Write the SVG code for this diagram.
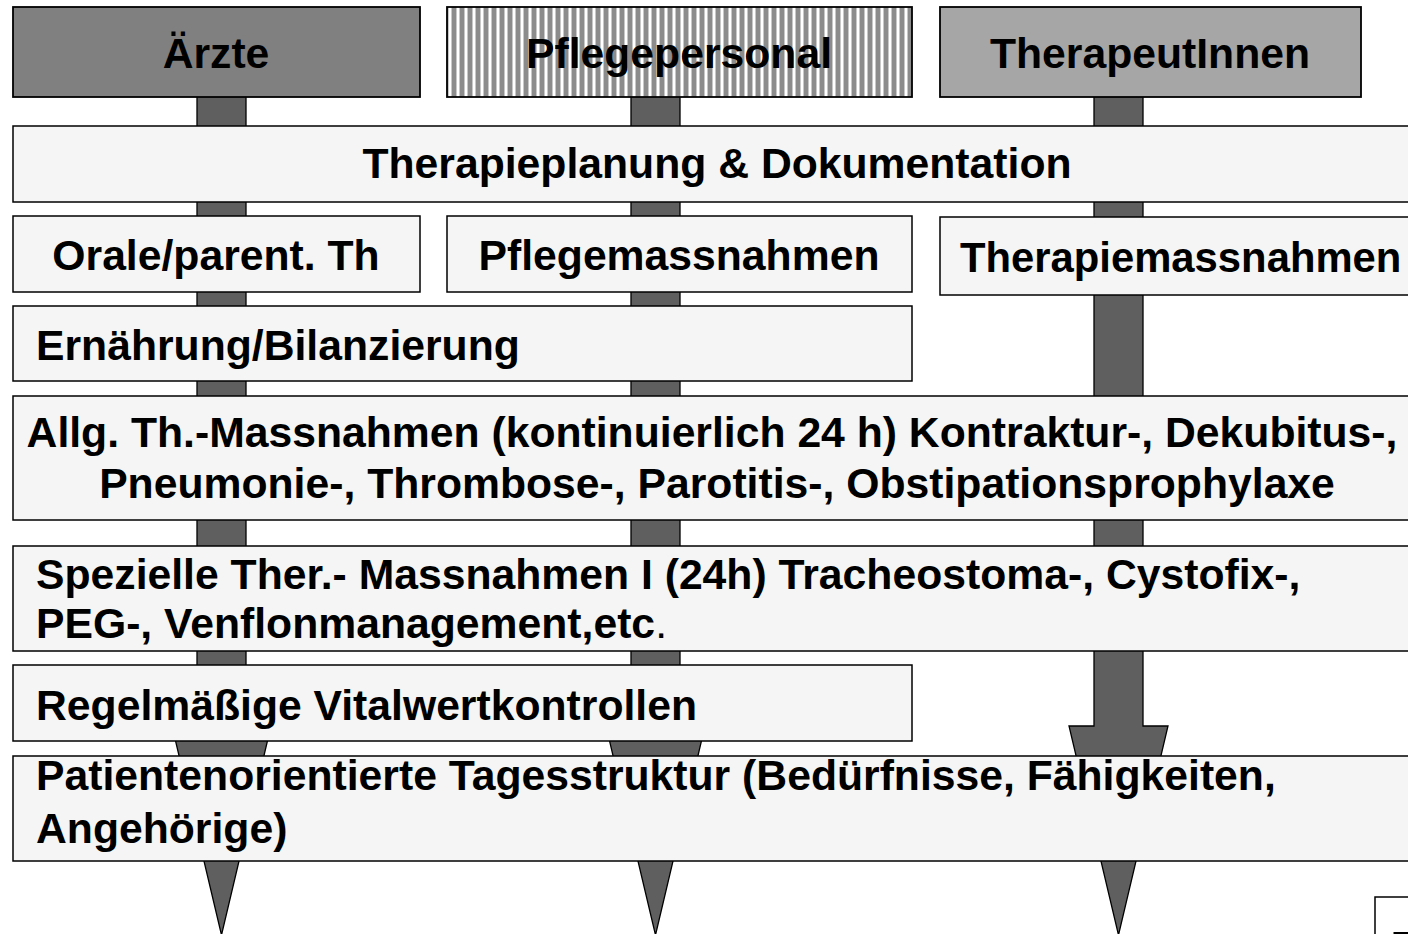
<svg xmlns="http://www.w3.org/2000/svg" width="1408" height="934" viewBox="0 0 1408 934">
<defs>
<pattern id="stripes" x="447" y="0" width="8" height="10" patternUnits="userSpaceOnUse">
<rect width="8" height="10" fill="#8c8c8c"/>
<rect x="1" width="1" height="10" fill="#c8c8c8"/>
<rect x="2" width="2" height="10" fill="#ffffff"/>
<rect x="4" width="1" height="10" fill="#c8c8c8"/>
</pattern>
</defs>
<style>
.box{fill:#f5f5f5;stroke:#000;stroke-width:1.5}
.head{stroke:#000;stroke-width:1.8}
.arrow{fill:#5f5f5f;stroke:#000;stroke-width:1.3}
text{font-family:"Liberation Sans",Arial,Helvetica,sans-serif;font-weight:bold;font-size:42.7px;fill:#000}
.c{text-anchor:middle}
</style>
<rect width="1408" height="934" fill="#ffffff"/>
<g id="connectors">
<polygon class="arrow" points="197,60 246,60 246,726 271,726 221.5,935 172,726 197,726"/>
<polygon class="arrow" points="631,60 680,60 680,726 705,726 655.5,935 606,726 631,726"/>
<polygon class="arrow" points="1094,60 1143,60 1143,726 1168,726 1118.5,935 1069,726 1094,726"/>
</g>
<g id="aerzte">
<rect class="head" x="13" y="7" width="407" height="90" fill="#808080"/>
<text class="c" x="216" y="68">Ärzte</text>
</g>
<g id="pflegepersonal">
<rect class="head" x="447" y="7" width="465" height="90" fill="url(#stripes)"/>
<text class="c" x="679" y="68">Pflegepersonal</text>
</g>
<g id="therapeutinnen">
<rect class="head" x="940" y="7" width="421" height="90" fill="#a6a6a6"/>
<text class="c" x="1150" y="68">TherapeutInnen</text>
</g>
<g id="therapieplanung">
<rect class="box" x="13" y="126" width="1410" height="76"/>
<text class="c" x="717" y="178">Therapieplanung &amp; Dokumentation</text>
</g>
<g id="orale">
<rect class="box" x="13" y="216" width="407" height="76"/>
<text class="c" x="216" y="270">Orale/parent. Th</text>
</g>
<g id="pflegemassnahmen">
<rect class="box" x="447" y="216" width="465" height="76"/>
<text class="c" x="679" y="270">Pflegemassnahmen</text>
</g>
<g id="therapiemassnahmen">
<rect class="box" x="940" y="217" width="480" height="78"/>
<text x="960" y="272" style="font-size:41.8px">Therapiemassnahmen</text>
</g>
<g id="ernaehrung">
<rect class="box" x="13" y="306" width="899" height="75"/>
<text x="36" y="360">Ernährung/Bilanzierung</text>
</g>
<g id="allgemein">
<rect class="box" x="13" y="396" width="1410" height="124"/>
<text class="c" x="712" y="447">Allg. Th.-Massnahmen (kontinuierlich 24 h) Kontraktur-, Dekubitus-,</text>
<text class="c" x="717" y="498">Pneumonie-, Thrombose-, Parotitis-, Obstipationsprophylaxe</text>
</g>
<g id="spezielle">
<rect class="box" x="13" y="546" width="1410" height="105"/>
<text x="36" y="589">Spezielle Ther.- Massnahmen I (24h) Tracheostoma-, Cystofix-,</text>
<text x="36" y="638">PEG-, Venflonmanagement,etc<tspan font-weight="normal">.</tspan></text>
</g>
<g id="vitalwerte">
<rect class="box" x="13" y="665" width="899" height="76"/>
<text x="36" y="720">Regelmäßige Vitalwertkontrollen</text>
</g>
<g id="tagesstruktur">
<rect class="box" x="13" y="756" width="1410" height="105"/>
<text x="36" y="790">Patientenorientierte Tagesstruktur (Bedürfnisse, Fähigkeiten,</text>
<text x="36" y="843">Angehörige)</text>
</g>
<g id="corner">
<rect x="1375" y="897" width="60" height="60" fill="#ffffff" stroke="#000" stroke-width="1.5"/>
<text x="1393" y="961">T</text>
</g>
</svg>
